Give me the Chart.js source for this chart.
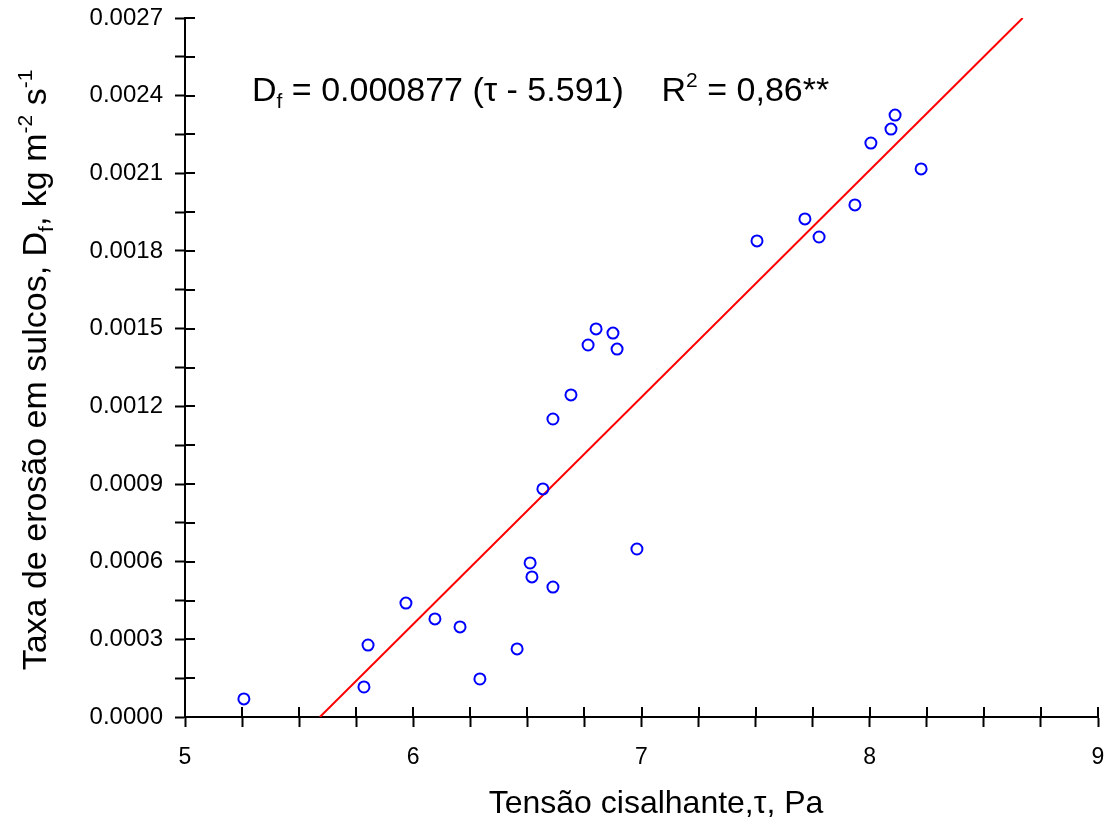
<!DOCTYPE html>
<html lang="pt">
<head>
  <meta charset="UTF-8" />
  <title>Taxa de erosão em sulcos</title>
  <script src="https://cdn.jsdelivr.net/npm/chart.js"></script>
  <style>
    html, body { margin: 0; padding: 0; background: #fff; }
    #wrap { width: 1111px; height: 825px; }
  </style>
</head>
<body>
  <div id="wrap"><canvas id="erosionChart" width="1111" height="825"></canvas></div>

  <script>
    // observed points (tau in Pa, Df in kg m-2 s-1)
    const tauObs = [5.258, 5.784, 5.802, 5.968, 6.095, 6.205, 6.292, 6.455, 6.512, 6.520,
                    6.568, 6.612, 6.612, 6.691, 6.766, 6.801, 6.875, 6.893, 6.980, 7.506,
                    7.716, 7.778, 7.935, 8.005, 8.093, 8.111, 8.225];
    const dfObs = [0.000070, 0.000116, 0.000278, 0.000440, 0.000379, 0.000348, 0.000147, 0.000263, 0.000595, 0.000541,
                   0.000881, 0.000502, 0.001151, 0.001244, 0.001437, 0.001499, 0.001483, 0.001421, 0.000649, 0.001839,
                   0.001924, 0.001854, 0.001978, 0.002217, 0.002271, 0.002325, 0.002117];

    // fitted line endpoints
    const fitTau = [5.591, 8.670];
    const fitDf = [0.0, 0.0027];

    // axis ranges
    const xRange = [5, 9];
    const xStep = 0.25;
    const yRange = [0, 0.0027];
    const yStep = 0.00015;

    const FONT = "'Liberation Sans', Arial, sans-serif";

    // draw text made of normal / sub / sup pieces
    function drawRich(ctx, parts, size, x, y, align) {
      let total = 0;
      parts.forEach(p => {
        const s = p[1] ? Math.round(size * 0.62) : size;
        ctx.font = s + "px " + FONT;
        p.w = ctx.measureText(p[0]).width;
        total += p.w;
      });
      let cx = align === "center" ? x - total / 2 : x;
      parts.forEach(p => {
        const s = p[1] ? Math.round(size * 0.62) : size;
        ctx.font = s + "px " + FONT;
        let dy = 0;
        if (p[1] === "sub") dy = size * 0.22;
        if (p[1] === "sup") dy = -size * 0.40;
        ctx.fillText(p[0], cx, y + dy);
        cx += p.w;
      });
    }

    const extras = {
      id: "extras",
      afterDraw(chart) {
        const ctx = chart.ctx;
        const xs = chart.scales.x, ys = chart.scales.y;
        const area = chart.chartArea;
        ctx.save();
        // inner half of the crossing ticks
        ctx.strokeStyle = "#000";
        ctx.lineWidth = 2;
        ctx.beginPath();
        xs.ticks.forEach((t, i) => {
          const px = Math.round(xs.getPixelForTick(i));
          ctx.moveTo(px, area.bottom);
          ctx.lineTo(px, area.bottom - 10);
        });
        ys.ticks.forEach((t, i) => {
          const py = Math.round(ys.getPixelForTick(i));
          ctx.moveTo(area.left, py);
          ctx.lineTo(area.left + 10, py);
        });
        ctx.stroke();

        ctx.fillStyle = "#000";
        ctx.textBaseline = "alphabetic";
        ctx.textAlign = "left";

        // equation
        drawRich(ctx, [["D"], ["f", "sub"], [" = 0.000877 (\u03c4 - 5.591)    R"], ["2", "sup"], [" = 0,86**"]],
                 34, 252, 101, "left");

        // x title
        drawRich(ctx, [["Tens\u00e3o cisalhante,\u03c4, Pa"]], 32, 656, 813, "center");

        // y title
        ctx.translate(46, 370);
        ctx.rotate(-Math.PI / 2);
        drawRich(ctx, [["Taxa de eros\u00e3o em sulcos, D"], ["f", "sub"], [", kg m"], ["-2", "sup"], [" s"], ["-1", "sup"]],
                 34, 0, 0, "center");
        ctx.restore();
      }
    };

    const scatterPts = tauObs.map((t, i) => ({ x: t, y: dfObs[i] }));
    const fitPts = fitTau.map((t, i) => ({ x: t, y: fitDf[i] }));

    // keep the plot box fixed: no extra room for overhanging labels
    function noOverhang(scale) {
      scale.paddingTop = 0;
      scale.paddingBottom = 0;
      scale.paddingLeft = 0;
      scale.paddingRight = 0;
    }

    new Chart(document.getElementById("erosionChart"), {
      type: "scatter",
      data: {
        datasets: [
          {
            label: "observado",
            data: scatterPts,
            pointStyle: "circle",
            pointRadius: 5.5,
            pointBorderWidth: 2,
            borderColor: "#0000ff",
            backgroundColor: "rgba(0,0,0,0)"
          },
          {
            type: "line",
            label: "ajuste",
            data: fitPts,
            borderColor: "#ff0000",
            borderWidth: 2,
            pointRadius: 0,
            fill: false
          }
        ]
      },
      options: {
        responsive: false,
        animation: false,
        layout: { padding: { top: 18, right: 13, left: 0, bottom: 0 } },
        plugins: { legend: { display: false }, tooltip: { enabled: false } },
        scales: {
          x: {
            type: "linear",
            min: xRange[0], max: xRange[1],
            afterFit(scale) { scale.height = 108; noOverhang(scale); },
            grid: { drawOnChartArea: false, drawTicks: true, tickLength: 10, tickWidth: 2, color: "#000" },
            border: { color: "#000", width: 2 },
            ticks: {
              stepSize: xStep,
              autoSkip: false,
              maxRotation: 0,
              padding: 17,
              color: "#000",
              font: { family: FONT, size: 23 },
              callback: v => Number.isInteger(v) ? String(v) : ""
            }
          },
          y: {
            type: "linear",
            min: yRange[0], max: yRange[1],
            afterFit(scale) { scale.width = 185; noOverhang(scale); },
            grid: { drawOnChartArea: false, drawTicks: true, tickLength: 10, tickWidth: 2, color: "#000" },
            border: { color: "#000", width: 2 },
            ticks: {
              stepSize: yStep,
              autoSkip: false,
              padding: 12,
              color: "#000",
              font: { family: FONT, size: 24 },
              callback: v => Math.round(v / yStep) % 2 === 0 ? v.toFixed(4) : ""
            }
          }
        }
      },
      plugins: [extras]
    });
  </script>
</body>
</html>
